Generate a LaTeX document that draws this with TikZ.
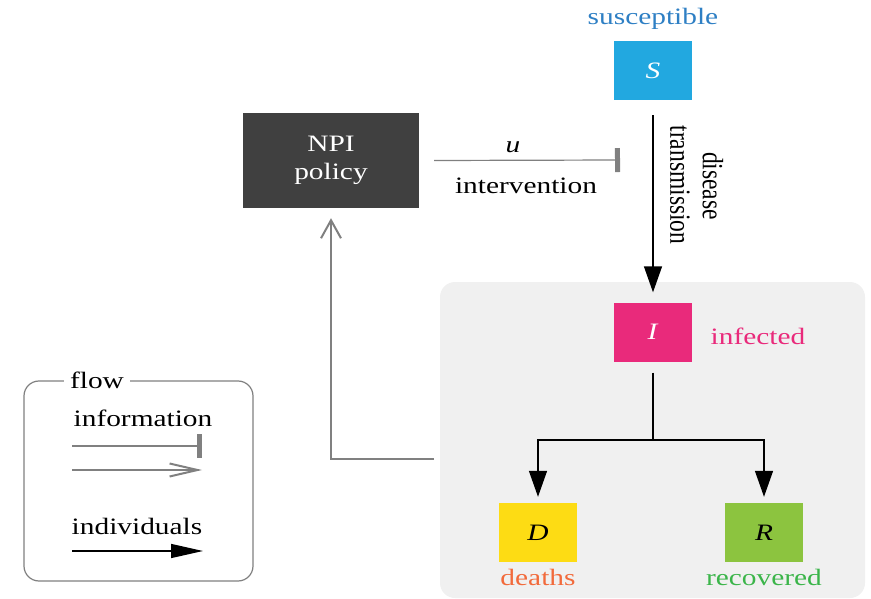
\documentclass[tikz,border=0pt]{standalone}
\usepackage{fontspec}
\setmainfont[FakeStretch=1.25]{Liberation Serif}
\newfontfamily\plainfont{Liberation Serif}
\usetikzlibrary{arrows.meta,positioning}
\definecolor{sblue}{HTML}{22A8E0}
\definecolor{slabel}{HTML}{2E7FC4}
\definecolor{ipink}{HTML}{E92A7B}
\definecolor{dyellow}{HTML}{FDDC14}
\definecolor{dlabel}{HTML}{F26A3B}
\definecolor{rgreen}{HTML}{8CC43F}
\definecolor{rlabel}{HTML}{3BB54A}
\definecolor{npigray}{HTML}{404040}
\definecolor{infogray}{HTML}{808080}
\definecolor{bggray}{HTML}{F0F0F0}
\tikzset{
  every node/.style={font=\fontsize{23.5}{27}\selectfont},
  compbox/.style={minimum width=78pt,minimum height=59pt,inner sep=0pt},
  indiv/.style={draw=black,line width=1.4pt,-{Triangle[length=26pt,width=18pt]}},
  legindiv/.style={draw=black,line width=1.4pt,-{Triangle[length=32pt,width=14pt]}},
  infobar/.style={draw=infogray,line width=1.2pt,-{Rectangle[length=5pt,width=24pt]}},
  infoarrow/.style={draw=infogray,line width=1.4pt,-{Straight Barb[length=18pt,width=20pt,line width=2pt]}},
  leginfoarrow/.style={draw=infogray,line width=1.2pt,-{Straight Barb[length=28pt,width=13pt,line width=2pt]}},
}
\begin{document}
\begin{tikzpicture}[x=1pt,y=-1pt]
\useasboundingbox (0,0) rectangle (871,599);
% grey background
\fill[bggray,rounded corners=15pt] (440,282) rectangle (865,598);
% compartments
\node[compbox,fill=sblue,text=white] (S) at (653,70.5) {\textit{S}};
\node[text=slabel] (Slab) at (653,19) {susceptible};
\node[compbox,fill=npigray,text=white,minimum width=176pt,minimum height=95pt,align=center,
      font=\fontsize{23.5}{28}\selectfont] (NPI) at (331,160.5) {NPI\\policy};
\node[compbox,fill=ipink,text=white] (I) at (653,332) {\textit{I}};
\node[text=ipink] (Ilab) at (758,336) {infected};
\node[compbox,fill=dyellow] (D) at (538,532.5) {\textit{D}};
\node[text=dlabel] (Dlab) at (538,577) {deaths};
\node[compbox,fill=rgreen] (R) at (764,532.5) {\textit{R}};
\node[text=rlabel] (Rlab) at (764,577) {recovered};
% intervention
\coordinate (ustart) at ([xshift=15pt]NPI.east);
\coordinate (uend) at (620,160);
\draw[infobar] (ustart) -- (uend);
\node (ulab) at (513,147) {\textit{u}};
\node (intlab) at (526,186) {intervention};
% disease transmission
\draw[indiv] ([yshift=-15pt]S.south) -- ([yshift=10pt]I.north);
\node[rotate=-90] (trans) at (680,185) {\plainfont\scalebox{1}[1.25]{transmission}};
\node[rotate=-90] (dis) at (713,186) {\plainfont\scalebox{1}[1.25]{disease}};
% I to D and R
\coordinate (split) at (653,440);
\draw[line width=1.4pt] ([yshift=-11pt]I.south) -- (split);
\draw[indiv] (split) -| ([yshift=6pt]D.north);
\draw[indiv] (split) -| ([yshift=6pt]R.north);
% feedback
\coordinate (fbstart) at (434,459);
\draw[infoarrow] (fbstart) -| ([yshift=-10pt]NPI.south);
% legend
\draw[infogray,line width=1.2pt,rounded corners=15pt] (24,381) rectangle (253,581);
\node[fill=white,inner sep=6pt] (flow) at (97,380) {flow};
\node (infolab) at (143,418) {information};
\coordinate (l1a) at (72,446); \coordinate (l1b) at (202,446);
\draw[infobar] (l1a) -- (l1b);
\coordinate (l2a) at (72,470); \coordinate (l2b) at (202,470);
\draw[leginfoarrow] (l2a) -- (l2b);
\node (indlab) at (137,526) {individuals};
\coordinate (l3a) at (72,551); \coordinate (l3b) at (203,551);
\draw[legindiv] (l3a) -- (l3b);
\end{tikzpicture}
\end{document}
